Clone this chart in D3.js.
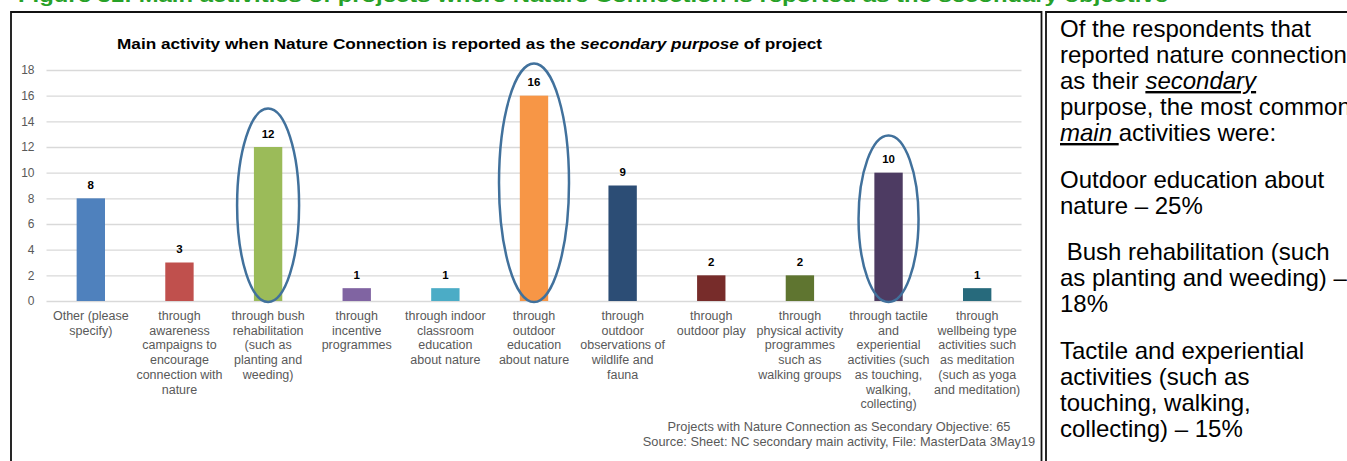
<!DOCTYPE html>
<html>
<head>
<meta charset="utf-8">
<script src="https://cdn.jsdelivr.net/npm/d3@7/dist/d3.min.js"></script>
<style>
  body { margin: 0; background: #fff; }
  svg { display: block; font-family: "Liberation Sans", Arial, sans-serif; }
</style>
</head>
<body>
<svg id="chart" width="1347" height="461"></svg>
<script>
// ---- data ----
const categories = [
  "Other (please\nspecify)",
  "through\nawareness\ncampaigns to\nencourage\nconnection with\nnature",
  "through bush\nrehabilitation\n(such as\nplanting and\nweeding)",
  "through\nincentive\nprogrammes",
  "through indoor\nclassroom\neducation\nabout nature",
  "through\noutdoor\neducation\nabout nature",
  "through\noutdoor\nobservations of\nwildlife and\nfauna",
  "through\noutdoor play",
  "through\nphysical activity\nprogrammes\nsuch as\nwalking groups",
  "through tactile\nand\nexperiential\nactivities (such\nas touching,\nwalking,\ncollecting)",
  "through\nwellbeing type\nactivities such\nas meditation\n(such as yoga\nand meditation)"
];
const projectCounts = [8, 3, 12, 1, 1, 16, 9, 2, 2, 10, 1];
const yTickValues = [0, 2, 4, 6, 8, 10, 12, 14, 16, 18];

// categories picked out with a ring, and how far up the count axis each ring reaches
const circledCategories = [categories[2], categories[5], categories[9]];
const circleReach = [15, 18.5, 12.9];

const chartTitle = ["Main activity when Nature Connection is reported as the ", "secondary purpose", " of project"];
const footerLines = [
  "Projects with Nature Connection as Secondary Objective: 65",
  "Source: Sheet: NC secondary main activity, File: MasterData 3May19"
];
const figureCaption = "Figure 31: Main activities of projects where Nature Connection is reported as the secondary objective";

// side note: paragraphs -> lines -> [text, italicUnderline]
const notePara1 = [
  [["Of the respondents that", false]],
  [["reported nature connection", false]],
  [["as their ", false], ["secondary", true]],
  [["purpose, the most common", false]],
  [["main ", true], ["activities were:", false]]
];
const notePara2 = [
  [["Outdoor education about", false]],
  [["nature \u2013 25%", false]]
];
const notePara3 = [
  [["\u00a0Bush rehabilitation (such", false]],
  [["as planting and weeding) \u2013", false]],
  [["18%", false]]
];
const notePara4 = [
  [["Tactile and experiential", false]],
  [["activities (such as", false]],
  [["touching, walking,", false]],
  [["collecting) \u2013 15%", false]]
];

// ---- styles ----
const barColors = ["#4f81bd", "#c0504d", "#9bbb59", "#8064a2", "#4bacc6", "#f79646",
                   "#2c4d75", "#772c2a", "#5f7530", "#4d3b62", "#276a7c"];
const ringHalfWidths = [31, 35, 30];
const axisGrey = "#595959";

const svg = d3.select("#chart");

// caption running along the top edge
svg.append("text")
  .attr("x", 18).attr("y", 2)
  .attr("font-size", 19).attr("font-weight", "bold")
  .attr("fill", "#27a127")
  .attr("textLength", 1150).attr("lengthAdjust", "spacingAndGlyphs")
  .text(figureCaption);

// frames
svg.append("path")
  .attr("d", "M11,470 V12 H1041.5 V470")
  .attr("fill", "none").attr("stroke", "#111").attr("stroke-width", 1.8);
svg.append("path")
  .attr("d", "M1046,470 V12 H1360")
  .attr("fill", "none").attr("stroke", "#111").attr("stroke-width", 1.8);

// ---- chart ----
const plotLeft = 46.5, plotRight = 1021.5;
const x = d3.scaleBand().domain(categories).range([plotLeft, plotRight])
  .paddingInner(0.68).paddingOuter(0.34);
const y = d3.scaleLinear().domain([0, 18]).range([301, 70]);

// title
const title = svg.append("text")
  .attr("x", 469.5).attr("y", 49)
  .attr("text-anchor", "middle")
  .attr("font-size", 14.5).attr("font-weight", "bold").attr("fill", "#000")
  .attr("textLength", 705).attr("lengthAdjust", "spacingAndGlyphs");
title.append("tspan").text(chartTitle[0]);
title.append("tspan").attr("font-style", "italic").text(chartTitle[1]);
title.append("tspan").text(chartTitle[2]);

// value axis with gridlines
svg.append("g")
  .attr("transform", `translate(${plotLeft},0)`)
  .call(d3.axisLeft(y).tickValues(yTickValues).tickSize(-(plotRight - plotLeft)).tickPadding(12))
  .call(g => g.select(".domain").remove())
  .call(g => g.selectAll(".tick line").attr("stroke", "#d9d9d9").attr("stroke-width", 1.3))
  .call(g => g.selectAll(".tick text")
    .attr("fill", axisGrey).attr("font-size", 12)
    .attr("font-family", "'Liberation Sans', Arial, sans-serif"));

// bars
svg.append("g").selectAll("rect")
  .data(projectCounts)
  .join("rect")
  .attr("x", (d, i) => x(categories[i]))
  .attr("width", x.bandwidth())
  .attr("y", d => y(d))
  .attr("height", d => y(0) - y(d))
  .attr("fill", (d, i) => barColors[i]);

// value labels
svg.append("g").selectAll("text")
  .data(projectCounts)
  .join("text")
  .attr("x", (d, i) => x(categories[i]) + x.bandwidth() / 2)
  .attr("y", d => y(d) - 9.5)
  .attr("text-anchor", "middle")
  .attr("font-size", 11.5).attr("font-weight", "bold").attr("fill", "#000")
  .text(d => d);

// category axis with wrapped labels
svg.append("g")
  .attr("transform", `translate(0,${y(0)})`)
  .call(d3.axisBottom(x).tickSize(0))
  .call(g => g.select(".domain").remove())
  .call(g => g.selectAll(".tick text")
    .attr("fill", axisGrey).attr("font-size", 12.5)
    .attr("font-family", "'Liberation Sans', Arial, sans-serif")
    .attr("dy", null)
    .each(function (d) {
      const t = d3.select(this).text(null);
      d.split("\n").forEach((ln, i) => {
        t.append("tspan").attr("x", 0).attr("y", 19 + i * 14.7).text(ln);
      });
    }));

// rings around the most common activities
svg.append("g").selectAll("ellipse")
  .data(circledCategories)
  .join("ellipse")
  .attr("cx", d => x(d) + x.bandwidth() / 2)
  .attr("cy", (d, i) => (y(0) + 1 + y(circleReach[i])) / 2)
  .attr("rx", (d, i) => ringHalfWidths[i])
  .attr("ry", (d, i) => (y(0) + 1 - y(circleReach[i])) / 2)
  .attr("fill", "none").attr("stroke", "#41719c").attr("stroke-width", 2.5);

// footer
svg.append("g").selectAll("text")
  .data(footerLines)
  .join("text")
  .attr("x", 839).attr("y", (d, i) => 431 + i * 15)
  .attr("text-anchor", "middle")
  .attr("font-size", 12.8).attr("fill", axisGrey)
  .text(d => d);

// ---- side note ----
const noteParas = [notePara1, notePara2, notePara3, notePara4];
const paraStarts = [37, 188, 260, 359];
const note = svg.append("g").attr("font-size", 24).attr("fill", "#000");
noteParas.forEach((para, p) => {
  para.forEach((line, i) => {
    const t = note.append("text")
      .attr("x", 1060).attr("y", paraStarts[p] + i * 26)
      .attr("xml:space", "preserve");
    line.forEach(([txt, emph]) => {
      const s = t.append("tspan").text(txt);
      if (emph) s.attr("font-style", "italic").attr("text-decoration", "underline");
    });
  });
});
</script>
</body>
</html>
